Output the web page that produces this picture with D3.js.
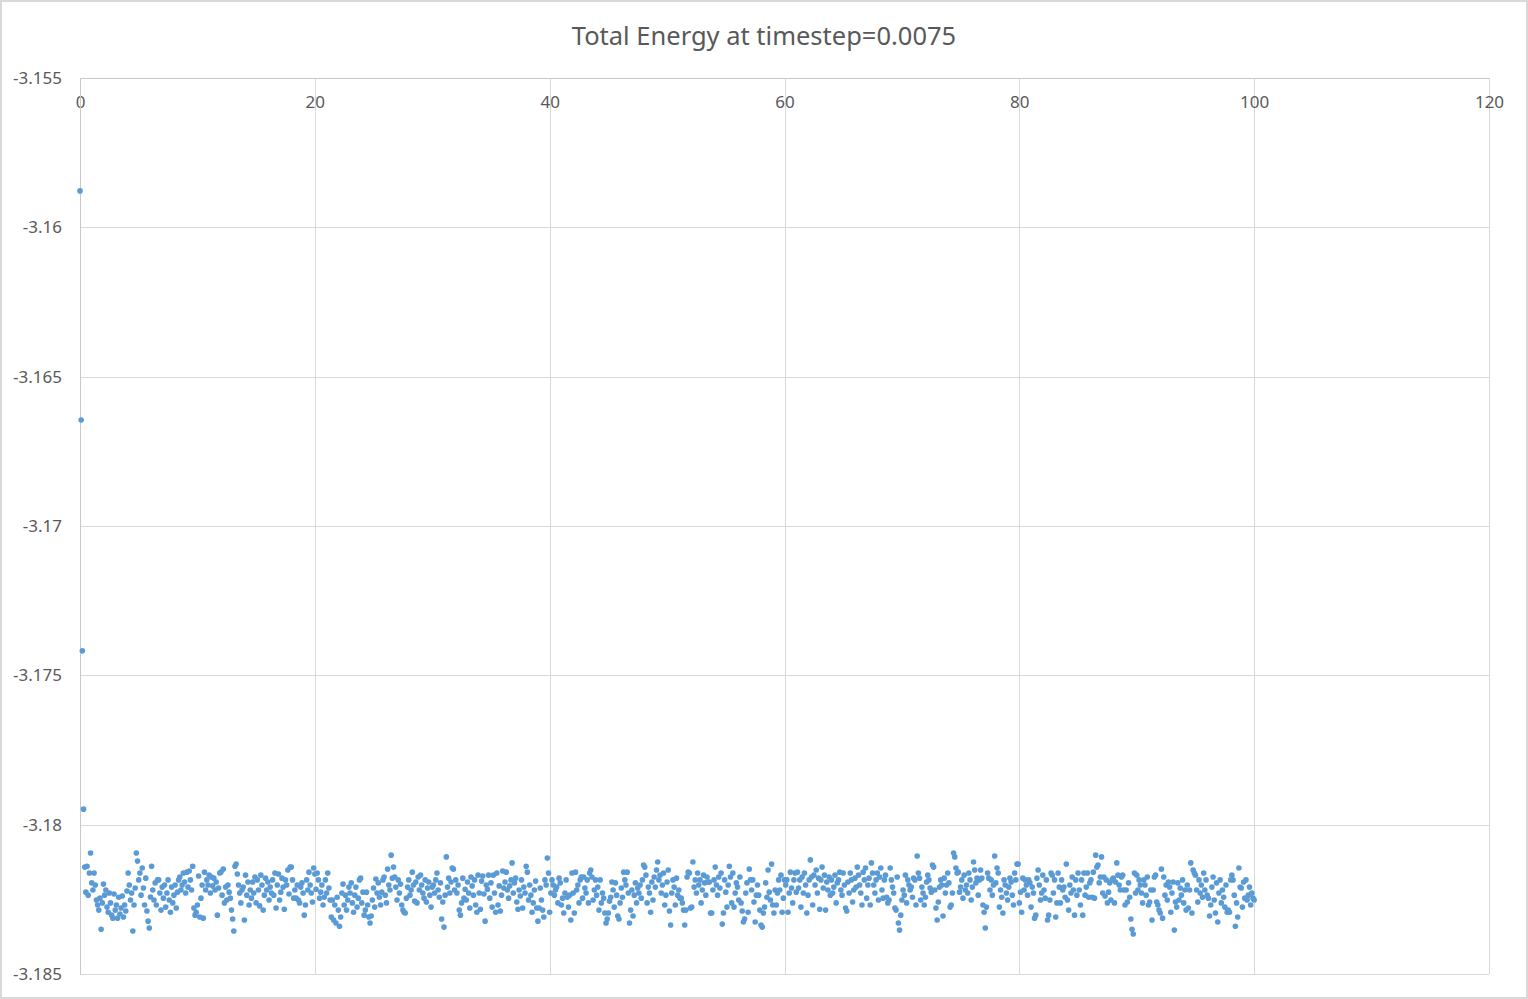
<!DOCTYPE html>
<html>
<head>
<meta charset="utf-8">
<script src="https://cdn.jsdelivr.net/npm/d3@7"></script>
<style>
  html, body { margin: 0; padding: 0; background: #fff; }
  svg { display: block; }
  text { font-family: "Noto Sans", "Open Sans", sans-serif; fill: #595959; }
</style>
</head>
<body>
<svg id="chart"></svg>
<script>
// x ticks and y ticks of the chart
const xTicks = [0, 20, 40, 60, 80, 100, 120];
const yTicks = [-3.155, -3.16, -3.165, -3.17, -3.175, -3.18, -3.185];
const titleText = "Total Energy at timestep=0.0075";

// time between samples (x axis)
const sampleStep = 0.1;

// total energy, in time order
const energyStart = [-3.15878, -3.16645, -3.17418, -3.17948];

const energy0to16 = [
  -3.18142,-3.18226,-3.18139,-3.18236,-3.18162,-3.18095,-3.18195,-3.18219,-3.18162,-3.18202,-3.18252,-3.18269,-3.18286,-3.18246,-3.18350,-3.18262,
  -3.18199,-3.18236,-3.18219,-3.18276,-3.18293,-3.18229,-3.18262,-3.18303,-3.18313,-3.18232,-3.18286,-3.18269,-3.18313,-3.18243,-3.18299,-3.18279,-3.18239,-3.18309,-3.18269,-3.18289,-3.18222,
  -3.18162,-3.18202,-3.18252,-3.18229,-3.18356,-3.18269,-3.18212,-3.18095,-3.18122,-3.18185,-3.18162,-3.18236,-3.18145,-3.18212,-3.18269,-3.18179,-3.18289,-3.18323,-3.18346,-3.18242,
  -3.18139,-3.18219,-3.18252,-3.18195,-3.18269,-3.18185,-3.18185,-3.18229,-3.18286,-3.18209,-3.18246,-3.18202,-3.18276,-3.18229,-3.18185,-3.18252,-3.18293,-3.18209,-3.18262,-3.18236,-3.18202,-3.18279,-3.18226,
  -3.18185,-3.18175,-3.18219,-3.18202,-3.18162,-3.18192,-3.18229,-3.18159,-3.18209,-3.18155,-3.18185,-3.18219,-3.18139,-3.18279,-3.18303,-3.18293,-3.18269,-3.18172,-3.18309,-3.18246,-3.18202,-3.18313,
  -3.18159,-3.18219,-3.18185,-3.18202,-3.18169,-3.18229,-3.18175,-3.18205,-3.18179,-3.18219,-3.18192,-3.18303,-3.18212,-3.18162,-3.18159,-3.18236,-3.18149,-3.18262,-3.18209,-3.18252,-3.18202,-3.18226,-3.18246,
  -3.18286,-3.18316,-3.18356,-3.18139,-3.18132,-3.18165,-3.18202,-3.18229,-3.18262,-3.18219,-3.18209,-3.18319,-3.18169,-3.18236,-3.18192,-3.18269,-3.18219,-3.18246,-3.18192,-3.18229,
  -3.18175,-3.18262,-3.18185,-3.18219,-3.18272,-3.18169,-3.18202,-3.18286,-3.18236,-3.18179,-3.18219,-3.18192,-3.18252,-3.18209,-3.18229
];

const energy16to34 = [
  -3.18185,-3.18236,-3.18162,-3.18279,-3.18202,-3.18165,-3.18252,-3.18226,-3.18179,-3.18209,-3.18283,-3.18185,-3.18202,-3.18152,-3.18232,-3.18142,-3.18142,-3.18185,-3.18246,-3.18219,-3.18246,-3.18202,-3.18252,
  -3.18262,-3.18209,-3.18195,-3.18229,-3.18303,-3.18269,-3.18185,-3.18219,-3.18159,-3.18202,-3.18229,-3.18259,-3.18145,-3.18165,-3.18216,-3.18162,-3.18185,-3.18246,-3.18226,-3.18202,-3.18269,-3.18243,-3.18185,-3.18229,-3.18162,-3.18212,-3.18252,-3.18309,
  -3.18252,-3.18319,-3.18269,-3.18329,-3.18243,-3.18286,-3.18340,-3.18309,-3.18229,-3.18199,-3.18269,-3.18236,-3.18286,-3.18252,-3.18209,-3.18229,-3.18195,-3.18262,-3.18293,-3.18236,-3.18209,-3.18276,-3.18246,-3.18185,-3.18179,-3.18262,-3.18226,-3.18303,-3.18286,
  -3.18226,-3.18269,-3.18309,-3.18329,-3.18306,-3.18252,-3.18212,-3.18276,-3.18182,-3.18229,-3.18195,-3.18243,-3.18269,-3.18226,-3.18185,-3.18175,-3.18236,-3.18262,-3.18149,-3.18202,-3.18219,-3.18102,-3.18179,-3.18142,-3.18175,-3.18209,-3.18252,-3.18185,
  -3.18229,-3.18199,-3.18269,-3.18286,-3.18293,-3.18296,-3.18246,-3.18209,-3.18185,-3.18236,-3.18219,-3.18159,-3.18202,-3.18256,-3.18192,-3.18262,-3.18175,-3.18219,-3.18169,-3.18202,-3.18229,-3.18246,-3.18185,-3.18259,-3.18212,-3.18192,-3.18236,-3.18276,-3.18209,
  -3.18202,-3.18229,-3.18185,-3.18162,-3.18219,-3.18243,-3.18195,-3.18316,-3.18259,-3.18343,-3.18236,-3.18108,-3.18209,-3.18179,-3.18229,-3.18192,-3.18145,-3.18149,-3.18219,-3.18185,-3.18229,-3.18202,-3.18286,-3.18303,-3.18262,-3.18179,-3.18246,-3.18216,-3.18252,-3.18192,-3.18229,-3.18279,-3.18175,-3.18205,-3.18236,-3.18185
];

const energy34to51 = [
  -3.18269,-3.18293,-3.18169,-3.18229,-3.18283,-3.18189,-3.18172,-3.18232,-3.18323,-3.18202,-3.18216,-3.18169,-3.18246,-3.18195,-3.18276,-3.18169,-3.18229,-3.18293,-3.18162,-3.18269,-3.18205,-3.18289,-3.18236,-3.18155,-3.18212,
  -3.18192,-3.18159,-3.18219,-3.18246,-3.18205,-3.18185,-3.18128,-3.18229,-3.18195,-3.18179,-3.18259,-3.18283,-3.18219,-3.18239,-3.18185,-3.18279,-3.18209,-3.18229,-3.18139,-3.18159,-3.18252,-3.18202,-3.18236,-3.18293,-3.18262,-3.18219,-3.18189,-3.18279,
  -3.18323,-3.18279,-3.18212,-3.18252,-3.18286,-3.18309,-3.18185,-3.18202,-3.18112,-3.18162,-3.18293,-3.18229,-3.18185,-3.18202,-3.18236,-3.18219,-3.18209,-3.18262,-3.18179,-3.18195,-3.18269,-3.18246,-3.18296,-3.18229,-3.18185,-3.18243,-3.18276,-3.18236,
  -3.18319,-3.18162,-3.18229,-3.18296,-3.18159,-3.18219,-3.18202,-3.18262,-3.18185,-3.18175,-3.18246,-3.18175,-3.18212,-3.18229,-3.18185,-3.18262,-3.18162,-3.18152,-3.18175,-3.18252,-3.18219,-3.18185,-3.18236,-3.18209,-3.18286,-3.18185,-3.18262,-3.18229,-3.18246,
  -3.18296,-3.18329,-3.18316,-3.18296,-3.18256,-3.18243,-3.18192,-3.18219,-3.18276,-3.18195,-3.18236,-3.18306,-3.18316,-3.18262,-3.18212,-3.18243,-3.18159,-3.18185,-3.18202,-3.18159,-3.18229,-3.18329,-3.18286,-3.18219,-3.18306,-3.18236,-3.18195,-3.18262,-3.18212,
  -3.18229,-3.18202,-3.18246,-3.18185,-3.18135,-3.18142,-3.18169,-3.18262,-3.18209,-3.18229,-3.18293,-3.18192,-3.18252,-3.18175,-3.18209,-3.18152,-3.18125,-3.18185,-3.18169,-3.18229,-3.18202,-3.18162,-3.18269,-3.18236,-3.18192,-3.18152,-3.18289,-3.18336,-3.18229,-3.18185,-3.18209,-3.18269,-3.18179,-3.18236,-3.18219,-3.18246
];

const energy51to69 = [
  -3.18246,-3.18262,-3.18286,-3.18336,-3.18286,-3.18175,-3.18159,-3.18162,-3.18279,-3.18276,-3.18125,-3.18209,-3.18185,-3.18229,-3.18162,-3.18202,-3.18185,-3.18262,-3.18219,-3.18169,-3.18195,-3.18236,-3.18175,-3.18192,
  -3.18192,-3.18296,-3.18296,-3.18219,-3.18185,-3.18142,-3.18202,-3.18236,-3.18175,-3.18212,-3.18162,-3.18333,-3.18296,-3.18185,-3.18226,-3.18276,-3.18202,-3.18139,-3.18175,-3.18262,-3.18162,-3.18276,-3.18229,-3.18195,-3.18209,-3.18252,-3.18175,-3.18262,
  -3.18289,-3.18326,-3.18316,-3.18229,-3.18195,-3.18293,-3.18149,-3.18185,-3.18219,-3.18185,-3.18259,-3.18326,-3.18236,-3.18202,-3.18236,-3.18286,-3.18336,-3.18343,-3.18296,-3.18276,-3.18195,-3.18243,-3.18152,-3.18226,-3.18252,-3.18132,-3.18269,-3.18296,-3.18219,
  -3.18269,-3.18229,-3.18185,-3.18219,-3.18169,-3.18293,-3.18246,-3.18185,-3.18202,-3.18185,-3.18293,-3.18229,-3.18159,-3.18212,-3.18262,-3.18185,-3.18162,-3.18226,-3.18159,-3.18212,-3.18185,-3.18276,-3.18175,-3.18229,-3.18162,-3.18202,-3.18296,-3.18236,
  -3.18185,-3.18118,-3.18175,-3.18269,-3.18169,-3.18202,-3.18152,-3.18229,-3.18179,-3.18283,-3.18185,-3.18142,-3.18212,-3.18169,-3.18286,-3.18192,-3.18219,-3.18175,-3.18236,-3.18185,-3.18229,-3.18209,-3.18169,-3.18262,-3.18195,-3.18185,-3.18159,-3.18219,-3.18236,
  -3.18162,-3.18202,-3.18279,-3.18289,-3.18192,-3.18229,-3.18162,-3.18185,-3.18259,-3.18219,-3.18179,-3.18209,-3.18142,-3.18169,-3.18202,-3.18229,-3.18269,-3.18159,-3.18185,-3.18145,-3.18246,-3.18202,-3.18179,-3.18269,-3.18128,-3.18162,-3.18202,-3.18229,-3.18185,-3.18162,-3.18252,-3.18175,-3.18145,-3.18219,-3.18246,-3.18185
];

const energy69to86 = [
  -3.18169,-3.18243,-3.18262,-3.18252,-3.18145,-3.18185,-3.18209,-3.18229,-3.18279,-3.18286,-3.18175,-3.18329,-3.18353,-3.18303,-3.18252,-3.18219,-3.18236,-3.18169,-3.18262,-3.18185,-3.18202,-3.18219,-3.18209,-3.18243,-3.18179,
  -3.18185,-3.18269,-3.18105,-3.18162,-3.18179,-3.18252,-3.18209,-3.18229,-3.18269,-3.18243,-3.18192,-3.18169,-3.18185,-3.18212,-3.18226,-3.18135,-3.18142,-3.18219,-3.18279,-3.18319,-3.18259,-3.18209,-3.18185,-3.18202,-3.18306,-3.18179,-3.18229,-3.18202,
  -3.18162,-3.18195,-3.18276,-3.18269,-3.18229,-3.18095,-3.18108,-3.18145,-3.18162,-3.18159,-3.18226,-3.18209,-3.18185,-3.18246,-3.18169,-3.18219,-3.18202,-3.18229,-3.18162,-3.18185,-3.18252,-3.18209,-3.18125,-3.18152,-3.18195,-3.18179,-3.18236,-3.18185,
  -3.18152,-3.18179,-3.18269,-3.18293,-3.18346,-3.18276,-3.18162,-3.18179,-3.18219,-3.18185,-3.18236,-3.18202,-3.18105,-3.18195,-3.18145,-3.18162,-3.18276,-3.18219,-3.18243,-3.18296,-3.18185,-3.18202,-3.18229,-3.18252,-3.18209,-3.18179,-3.18192,-3.18236,-3.18269,
  -3.18162,-3.18185,-3.18132,-3.18132,-3.18262,-3.18226,-3.18293,-3.18179,-3.18219,-3.18185,-3.18202,-3.18236,-3.18185,-3.18195,-3.18276,-3.18209,-3.18229,-3.18313,-3.18303,-3.18179,-3.18152,-3.18202,-3.18252,-3.18229,-3.18169,-3.18219,-3.18246,-3.18185,
  -3.18319,-3.18303,-3.18252,-3.18162,-3.18169,-3.18229,-3.18185,-3.18309,-3.18262,-3.18162,-3.18209,-3.18262,-3.18185,-3.18219,-3.18209,-3.18243,-3.18132,-3.18252,-3.18286,-3.18202,-3.18229,-3.18175,-3.18219,-3.18303,-3.18185,-3.18236,-3.18162,-3.18219,-3.18269,-3.18185,-3.18303,-3.18162,-3.18236,-3.18209,-3.18162,-3.18243,-3.18195
];

const energy86to100 = [
  -3.18185,-3.18243,-3.18159,-3.18246,-3.18102,-3.18142,-3.18135,-3.18195,-3.18175,-3.18108,-3.18229,-3.18175,-3.18239,-3.18185,-3.18262,-3.18226,-3.18195,-3.18252,-3.18185,-3.18179,-3.18262,-3.18192,-3.18128,-3.18169,-3.18202,-3.18219,
  -3.18175,-3.18169,-3.18219,-3.18269,-3.18219,-3.18259,-3.18195,-3.18243,-3.18316,-3.18350,-3.18366,-3.18162,-3.18229,-3.18169,-3.18219,-3.18185,-3.18202,-3.18229,-3.18262,-3.18185,-3.18202,-3.18236,-3.18175,
  -3.18269,-3.18259,-3.18219,-3.18319,-3.18219,-3.18175,-3.18169,-3.18259,-3.18269,-3.18286,-3.18296,-3.18149,-3.18313,-3.18175,-3.18236,-3.18202,-3.18252,
  -3.18192,-3.18209,-3.18293,-3.18229,-3.18192,-3.18353,-3.18259,-3.18276,-3.18195,-3.18252,-3.18212,-3.18236,-3.18185,-3.18262,-3.18219,-3.18286,-3.18202,
  -3.18279,-3.18219,-3.18128,-3.18296,-3.18152,-3.18162,-3.18169,-3.18219,-3.18259,-3.18185,-3.18229,-3.18202,-3.18243,-3.18162,-3.18219,-3.18185,-3.18236,
  -3.18246,-3.18306,-3.18269,-3.18209,-3.18175,-3.18252,-3.18296,-3.18195,-3.18326,-3.18229,-3.18185,-3.18262,-3.18219,-3.18243,-3.18276,-3.18202,-3.18293,
  -3.18286,-3.18293,-3.18185,-3.18169,-3.18185,-3.18236,-3.18340,-3.18262,-3.18309,-3.18145,-3.18209,-3.18212,-3.18276,-3.18192,-3.18246,-3.18185,-3.18252,-3.18236,-3.18209,-3.18269,-3.18229,-3.18246,-3.18252
];

const energy = [].concat(energyStart, energy0to16, energy16to34, energy34to51,
  energy51to69, energy69to86, energy86to100);
const data = energy.map((e, i) => ({ t: i * sampleStep, e: e }));

const W = 1528, H = 999;
const margin = { top: 78, right: 39, bottom: 25, left: 80 };
const width = W - margin.left - margin.right;
const height = H - margin.top - margin.bottom;

const svg = d3.select("#chart").attr("width", W).attr("height", H);

// chart area border
svg.append("rect")
  .attr("x", 1).attr("y", 1)
  .attr("width", W - 2).attr("height", H - 2)
  .attr("fill", "#fff")
  .attr("stroke", "#d9d9d9")
  .attr("stroke-width", 2);

svg.append("text")
  .attr("x", W / 2)
  .attr("y", 45)
  .attr("text-anchor", "middle")
  .style("font-size", "25.5px")
  .text(titleText);

const g = svg.append("g")
  .attr("transform", `translate(${margin.left},${margin.top})`);

const x = d3.scaleLinear().domain([0, 120]).range([0, width]);
const y = d3.scaleLinear().domain([-3.185, -3.155]).range([height, 0]);

// gridlines
g.append("g")
  .selectAll("line")
  .data(yTicks)
  .enter().append("line")
  .attr("x1", 0).attr("x2", width)
  .attr("y1", d => Math.round(y(d)) + 0.5)
  .attr("y2", d => Math.round(y(d)) + 0.5)
  .attr("stroke", "#d9d9d9");

g.append("g")
  .selectAll("line")
  .data(xTicks)
  .enter().append("line")
  .attr("y1", 0).attr("y2", height)
  .attr("x1", d => Math.round(x(d)) + 0.5)
  .attr("x2", d => Math.round(x(d)) + 0.5)
  .attr("stroke", "#d9d9d9");

// horizontal axis sits at the top (max of y), labels under it
const xAxis = d3.axisBottom(x)
  .tickValues(xTicks)
  .tickSize(0)
  .tickPadding(18)
  .tickFormat(d3.format("d"));

const xAxisGroup = g.append("g").call(xAxis);
xAxisGroup.attr("font-size", null).attr("font-family", null);
xAxisGroup.select(".domain").attr("stroke", "#c8c8c8");
xAxisGroup.selectAll("text")
  .style("font-size", "17px")
  .attr("fill", "#595959");

const yAxis = d3.axisLeft(y)
  .tickValues(yTicks)
  .tickSize(0)
  .tickPadding(18)
  .tickFormat(d => String(+d.toFixed(3)));

const yAxisGroup = g.append("g").call(yAxis);
yAxisGroup.attr("font-size", null).attr("font-family", null);
yAxisGroup.select(".domain").attr("stroke", "#c8c8c8");
yAxisGroup.selectAll("text")
  .style("font-size", "17px")
  .attr("fill", "#595959");

// points
g.append("g")
  .selectAll("circle")
  .data(data)
  .enter().append("circle")
  .attr("cx", d => x(d.t))
  .attr("cy", d => y(d.e))
  .attr("r", 2.8)
  .attr("fill", "#5b9bd5");
</script>
</body>
</html>
